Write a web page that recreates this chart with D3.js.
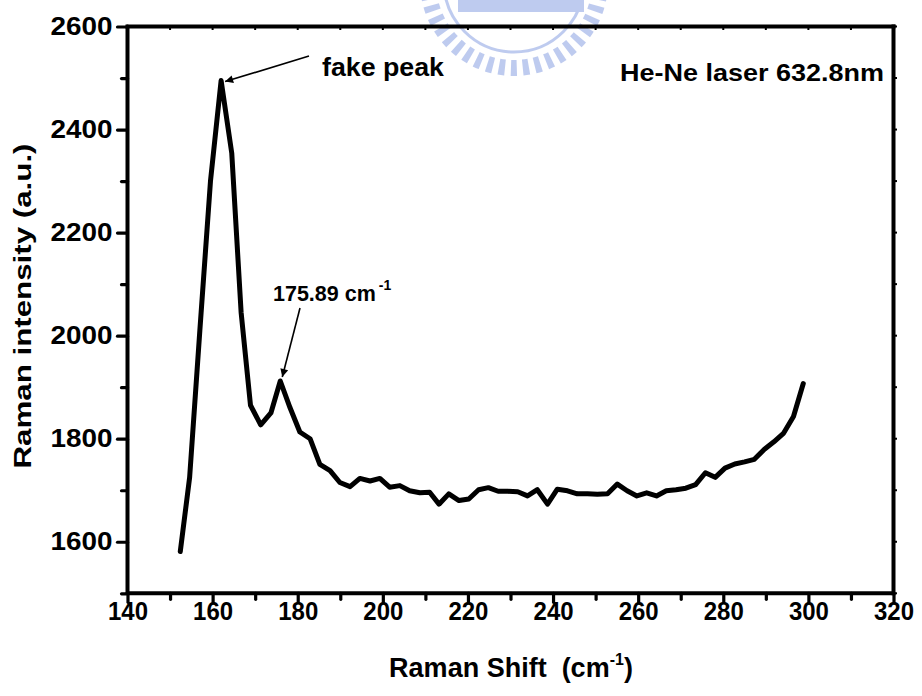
<!DOCTYPE html>
<html><head><meta charset="utf-8">
<script src="https://cdn.jsdelivr.net/npm/d3@7"></script>
<style>
html,body{margin:0;padding:0;background:#fff;}
svg{display:block;}
text{font-family:"Liberation Sans",Arial,sans-serif;font-weight:bold;fill:#000;}
</style></head>
<body>
<script>
// ---- data ----
const ramanShift = [152.4,154.6,157.0,159.5,162.0,164.5,166.7,168.9,171.3,173.7,175.9,178.2,180.5,182.9,185.2,187.6,189.9,192.3,194.6,197.0,199.3,201.6,204.0,206.3,208.7,211.0,213.2,215.5,217.9,220.2,222.5,224.8,227.1,229.4,231.7,234.0,236.3,238.7,241.0,243.4,245.7,248.1,250.4,252.8,255.1,257.4,259.7,262.0,264.3,266.6,268.9,271.2,273.5,275.8,278.1,280.4,282.7,285.0,287.3,289.6,291.9,294.2,296.5,298.8];
const intensity = [1581,1725,2010,2300,2495,2354,2045,1865,1827,1850,1912,1860,1813,1800,1750,1738,1715,1707,1723,1718,1723,1706,1709,1699,1695,1696,1673,1693,1680,1683,1701,1705,1698,1698,1697,1689,1701,1673,1702,1699,1693,1693,1692,1693,1712,1699,1689,1695,1689,1699,1701,1704,1711,1734,1725,1743,1751,1755,1760,1779,1794,1811,1843,1907];
const xMajorTicks = [140,160,180,200,220,240,260,280,300,320];
const xMinorTicks = [150,170,190,210,230,250,270,290,310];
const yMajorTicks = [1600,1800,2000,2200,2400,2600];
const yMinorTicks = [1500,1700,1900,2100,2300,2500];
const fakePeak = {x:162.0, y:2495, label:"fake peak"};
const realPeak = {x:175.9, y:1912, label:"175.89 cm"};

const W=922,H=696;
const L=127.5,R=893.5,T=26.5,B=593.3;
const svg=d3.select("body").append("svg").attr("width",W).attr("height",H);

// faint watermark emblem (decorative)
const wm=svg.append("g").attr("opacity",0.5);
wm.append("circle").attr("cx",514).attr("cy",-18).attr("r",86)
  .attr("fill","none").attr("stroke","#7f98e0").attr("stroke-width",16)
  .attr("stroke-dasharray","6 6");
wm.append("circle").attr("cx",514).attr("cy",-18).attr("r",70)
  .attr("fill","none").attr("stroke","#7f98e0").attr("stroke-width",3);
wm.append("rect").attr("x",458).attr("y",0).attr("width",126).attr("height",12).attr("fill","#7f98e0");

const x=d3.scaleLinear().domain([140,320]).range([L,R]);
const y=d3.scaleLinear().domain([1500,2600]).range([B,T]);

// frame top/right
svg.append("line").attr("x1",L).attr("x2",R).attr("y1",T).attr("y2",T).attr("stroke","#000").attr("stroke-width",4).attr("stroke-linecap","square");
svg.append("line").attr("x1",R).attr("x2",R).attr("y1",T).attr("y2",B).attr("stroke","#000").attr("stroke-width",4).attr("stroke-linecap","square");
// small ticks on top/right
svg.append("g").selectAll("line").data(xMajorTicks.concat(xMinorTicks)).join("line")
  .attr("x1",d=>x(d)).attr("x2",d=>x(d)).attr("y1",T).attr("y2",T+3.5).attr("stroke","#000").attr("stroke-width",2);
svg.append("g").selectAll("line").data(yMajorTicks.concat(yMinorTicks)).join("line")
  .attr("x1",R).attr("x2",R+3.5).attr("y1",d=>y(d)).attr("y2",d=>y(d)).attr("stroke","#000").attr("stroke-width",2);

// bottom axis
const gx=svg.append("g").attr("transform",`translate(0,${B})`)
  .call(d3.axisBottom(x).tickValues(xMajorTicks).tickSize(9).tickPadding(-1).tickFormat(d3.format("d")));
const gxm=svg.append("g").attr("transform",`translate(0,${B})`)
  .call(d3.axisBottom(x).tickValues(xMinorTicks).tickSize(6).tickFormat(""));
// left axis
const gy=svg.append("g").attr("transform",`translate(${L},0)`)
  .call(d3.axisLeft(y).tickValues(yMajorTicks).tickSize(10).tickPadding(5).tickFormat(d3.format("d")));
const gym=svg.append("g").attr("transform",`translate(${L},0)`)
  .call(d3.axisLeft(y).tickValues(yMinorTicks).tickSize(6).tickFormat(""));

[gx,gxm,gy,gym].forEach(g=>{
  g.select(".domain").attr("stroke","#000").attr("stroke-width",4).attr("stroke-linecap","round");
  g.selectAll(".tick line").attr("stroke","#000").attr("stroke-width",3.2).attr("stroke-linecap","round");
});
gx.select(".domain").attr("d",`M${L},0H${R}`);
gxm.select(".domain").remove();
gy.select(".domain").attr("d",`M0,${T}V${B}`);
gym.select(".domain").remove();
gx.selectAll(".tick text").attr("font-size",26).attr("font-family","Liberation Sans, Arial, sans-serif").attr("font-weight","bold").attr("fill","#000")
  .attr("textLength",40).attr("lengthAdjust","spacingAndGlyphs");
gy.selectAll(".tick text").attr("font-size",25).attr("font-family","Liberation Sans, Arial, sans-serif").attr("font-weight","bold").attr("fill","#000")
  .attr("textLength",62).attr("lengthAdjust","spacingAndGlyphs");

// data line
const line=d3.line().x((d,i)=>x(ramanShift[i])).y(d=>y(d));
svg.append("path").datum(intensity).attr("d",line).attr("fill","none")
  .attr("stroke","#000").attr("stroke-width",5).attr("stroke-linejoin","round").attr("stroke-linecap","round");

// axis titles
const xt=svg.append("text").attr("x",511).attr("y",677).attr("text-anchor","middle").attr("font-size",27);
xt.append("tspan").text("Raman Shift\u00a0\u00a0(cm");
xt.append("tspan").attr("font-size",16).attr("dy",-12).text("-1");
xt.append("tspan").attr("dy",12).text(")");

svg.append("text").attr("transform","translate(31,306) rotate(-90)").attr("text-anchor","middle")
  .attr("font-size",24).attr("textLength",325).attr("lengthAdjust","spacingAndGlyphs").text("Raman intensity (a.u.)");

// annotations
svg.append("defs").append("marker").attr("id","ah").attr("viewBox","0 0 10 10").attr("refX",10).attr("refY",5)
  .attr("markerWidth",12).attr("markerHeight",8).attr("markerUnits","userSpaceOnUse").attr("orient","auto")
  .append("path").attr("d","M0,0L10,5L0,10Z").attr("fill","#000");

svg.append("text").attr("x",322).attr("y",76).attr("font-size",25).attr("textLength",122).attr("lengthAdjust","spacingAndGlyphs").text(fakePeak.label);
svg.append("line").attr("x1",309).attr("y1",56).attr("x2",x(fakePeak.x)+4).attr("y2",y(fakePeak.y)+1)
  .attr("stroke","#000").attr("stroke-width",1.6).attr("marker-end","url(#ah)");

svg.append("text").attr("x",620).attr("y",81).attr("font-size",24).attr("textLength",264).attr("lengthAdjust","spacingAndGlyphs").text("He-Ne laser 632.8nm");

const pt=svg.append("text").attr("x",273).attr("y",301).attr("font-size",21.5);
pt.append("tspan").text(realPeak.label);
pt.append("tspan").attr("font-size",14).attr("dx",3).attr("dy",-11).text("-1");
svg.append("line").attr("x1",300).attr("y1",308).attr("x2",x(realPeak.x)+2).attr("y2",y(realPeak.y)-4)
  .attr("stroke","#000").attr("stroke-width",1.6).attr("marker-end","url(#ah)");
</script>
</body></html>
